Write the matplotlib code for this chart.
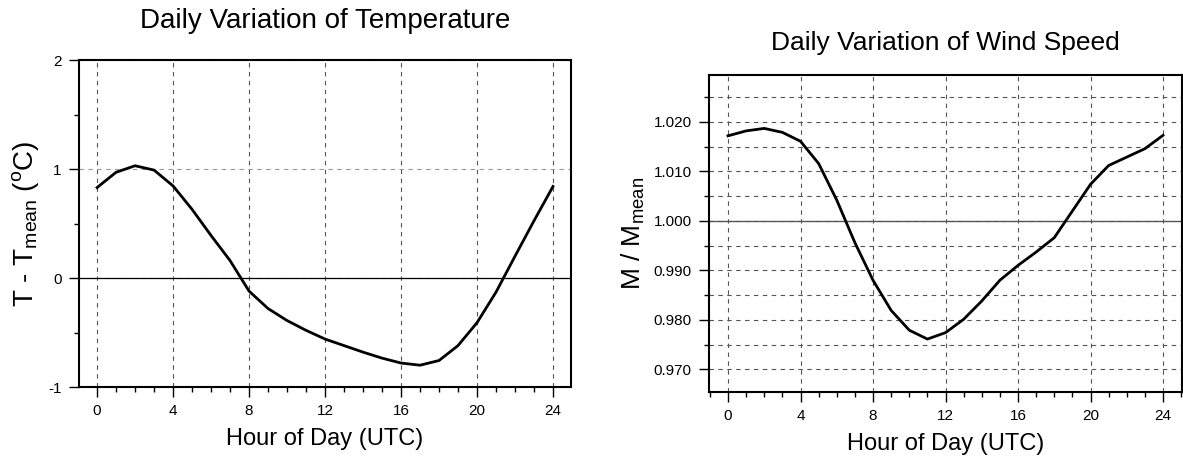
import numpy as np
import matplotlib
matplotlib.use("Agg")
import matplotlib.pyplot as plt
from matplotlib.ticker import MultipleLocator, FormatStrFormatter

plt.rcParams['font.family'] = ['Liberation Sans', 'DejaVu Sans']
plt.rcParams['mathtext.fontset'] = 'custom'
plt.rcParams['mathtext.rm'] = 'Liberation Sans'
plt.rcParams['mathtext.it'] = 'Liberation Sans'
plt.rcParams['axes.unicode_minus'] = False

hours = np.arange(0, 25)

# temperature anomaly (deg C) for each hour
temp_anom = [0.83, 0.97, 1.03, 0.99, 0.845, 0.63, 0.39, 0.16, -0.12, -0.28,
             -0.39, -0.48, -0.56, -0.62, -0.68, -0.735, -0.78, -0.80, -0.757,
             -0.62, -0.41, -0.13, 0.20, 0.525, 0.84]

# wind speed relative to the daily mean
wind_ratio = [1.0172, 1.0182, 1.0187, 1.0179, 1.0161, 1.0116, 1.0042, 0.9956,
              0.9880, 0.9819, 0.9779, 0.9761, 0.9774, 0.9801, 0.9838, 0.9880,
              0.9910, 0.9937, 0.9966, 1.0020, 1.0074, 1.0112, 1.0129, 1.0146,
              1.0173]

hour_ticks = [0, 4, 8, 12, 16, 20, 24]

fig = plt.figure(figsize=(11.83, 4.61), dpi=100)
ax1 = fig.add_axes([0.0668, 0.1605, 0.4159, 0.7093])
ax2 = fig.add_axes([0.5993, 0.1497, 0.3999, 0.6876])

grid_kw = dict(linestyle=(0, (4, 4)), linewidth=0.8)

for ax in (ax1, ax2):
    ax.set_xticks(hour_ticks)
    ax.xaxis.set_minor_locator(MultipleLocator(1))
    ax.tick_params(which='major', direction='out', length=7.5, width=1.0,
                   labelsize=11, pad=5)
    ax.tick_params(which='minor', direction='out', length=3.8, width=1.0)
    ax.tick_params(top=False, right=False)
    for s in ax.spines.values():
        s.set_linewidth(1.5)
    ax.grid(axis='x', which='major', color='#555555', **grid_kw)
    ax.set_axisbelow(True)
    ax.set_xlabel('Hour of Day (UTC)', fontsize=17, labelpad=7)

# temperature panel
ax1.plot(hours, temp_anom, color='black', linewidth=2.0, zorder=3)
ax1.axhline(0, color='black', linewidth=0.9, zorder=2)
ax1.set_xlim(-0.95, 24.95)
ax1.set_ylim(-1, 2)
ax1.set_yticks([-1, 0, 1, 2])
ax1.yaxis.set_minor_locator(MultipleLocator(0.5))
ax1.grid(axis='y', which='major', color='#999999', **grid_kw)
ax1.set_ylabel(r'T - T$_{\mathrm{mean}}$ ($^{\mathrm{o}}$C)', fontsize=20, labelpad=5)
ax1.set_title('Daily Variation of Temperature', fontsize=20, pad=23)

# wind speed panel
ax2.plot(hours, wind_ratio, color='black', linewidth=2.0, zorder=3)
ax2.axhline(1.0, color='#555555', linewidth=1.0, zorder=2)
ax2.set_xlim(-1.05, 25.05)
ax2.set_ylim(0.9654, 1.0295)
ax2.set_yticks([0.970, 0.980, 0.990, 1.000, 1.010, 1.020])
ax2.yaxis.set_major_formatter(FormatStrFormatter('%.3f'))
ax2.yaxis.set_minor_locator(MultipleLocator(0.005))
ax2.grid(axis='y', which='both', color='#555555', **grid_kw)
ax2.set_ylabel(r'M / M$_{\mathrm{mean}}$', fontsize=19, labelpad=5)
ax2.set_title('Daily Variation of Wind Speed', fontsize=19, pad=18)

fig.savefig('out.png', dpi=100)
